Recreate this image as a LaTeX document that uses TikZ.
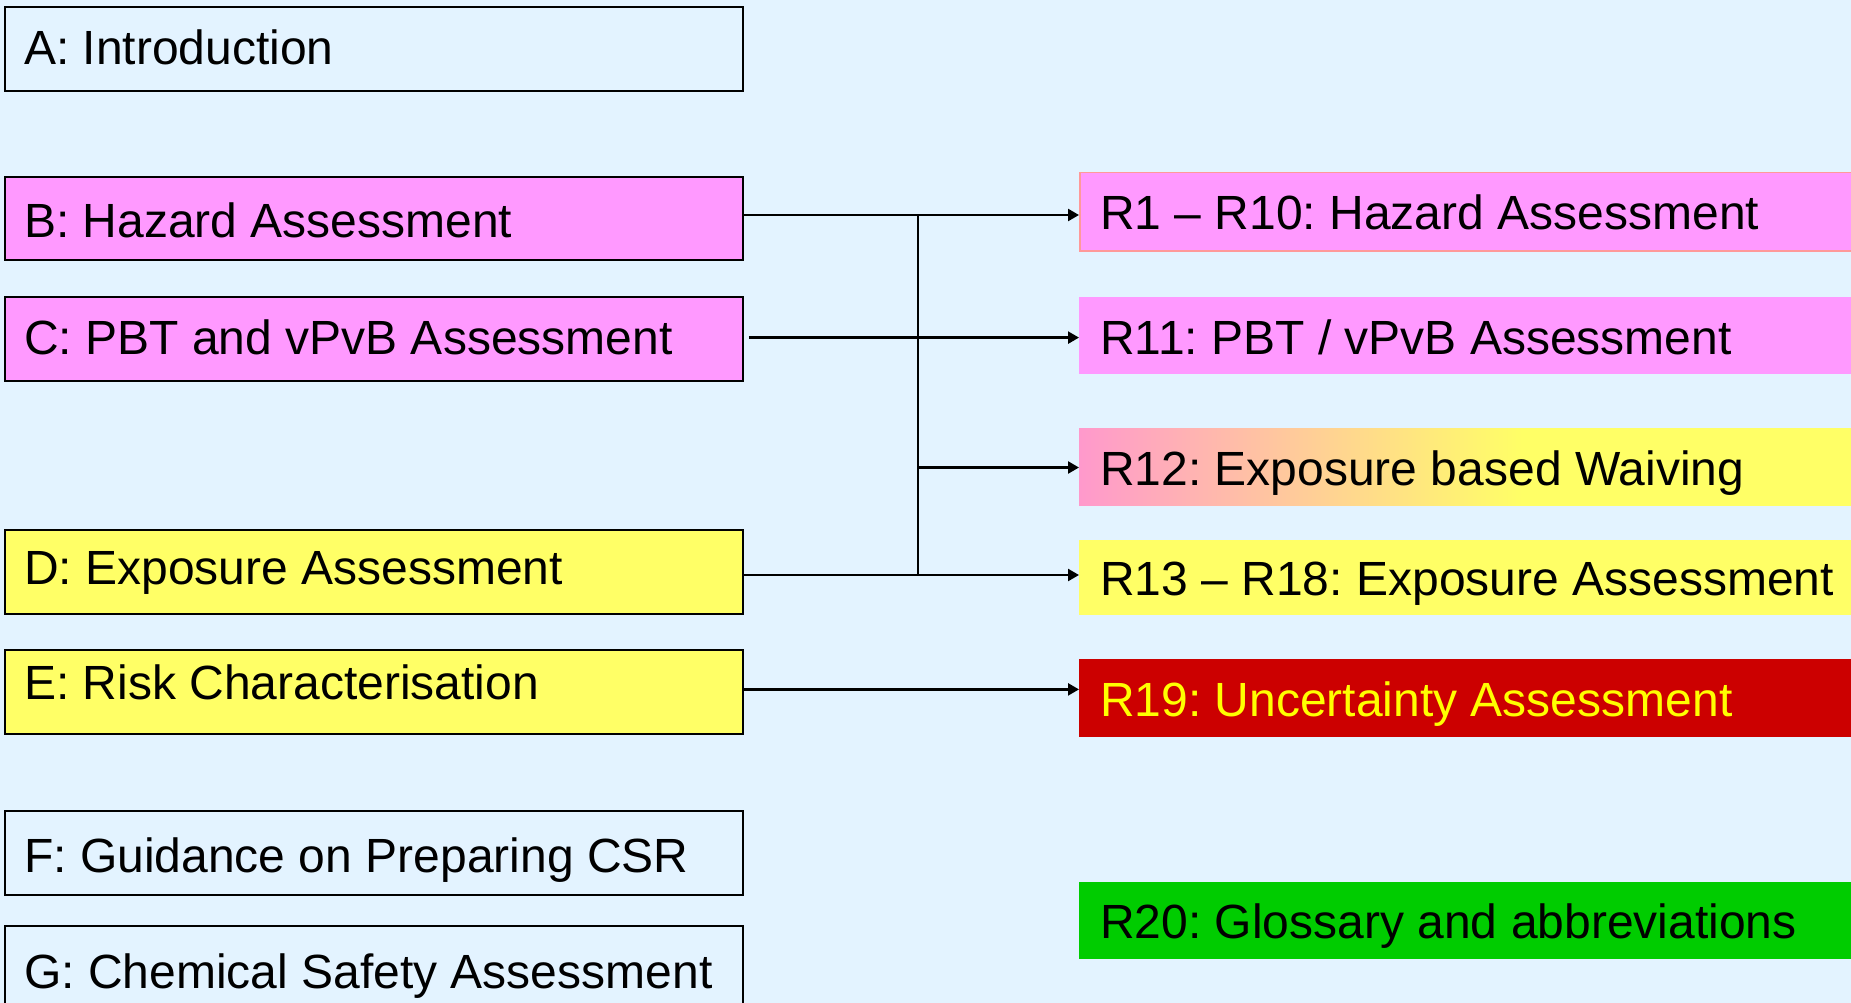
\documentclass[tikz,border=0pt]{standalone}
\usepackage{fontspec}
\setmainfont{Liberation Sans}
\usetikzlibrary{arrows.meta}
\definecolor{bg}{RGB}{227,243,255}
\definecolor{pinkA}{RGB}{255,153,255}
\definecolor{yellowA}{RGB}{255,255,102}
\definecolor{pinkB}{RGB}{255,153,204}
\definecolor{redA}{RGB}{204,0,0}
\definecolor{greenA}{RGB}{0,204,0}
\definecolor{salmon}{RGB}{255,153,153}
\definecolor{yellowT}{RGB}{255,255,0}
\pgfdeclarehorizontalshading{pinkyellow}{100bp}{color(0bp)=(pinkB); color(25bp)=(pinkB); color(53bp)=(yellowA); color(100bp)=(yellowA)}
\tikzset{
  lbox/.style={draw=black, line width=2.4pt, rectangle, inner sep=0pt, minimum width=738pt, anchor=north west},
  rbox/.style={draw=none, rectangle, inner sep=0pt, minimum width=791pt, anchor=north west},
  txt/.style={font=\fontsize{48}{57}\selectfont, anchor=base west, inner sep=0pt},
  conn/.style={line width=2.4pt, -{Triangle[length=11pt,width=12pt]}},
  trunk/.style={line width=1.6pt}
}
\frenchspacing
\begin{document}
\begin{tikzpicture}[x=1pt,y=-1pt]
\useasboundingbox (0,0) rectangle (1851,1003);
\fill[bg] (0,0) rectangle (1851,1003);
% left boxes
\node[lbox, fill=bg, minimum height=84pt] (A) at (3.5,6) {};
\node[lbox, fill=pinkA, minimum height=83pt] (B) at (3.5,176) {};
\node[lbox, fill=pinkA, minimum height=84pt] (C) at (3.5,296) {};
\node[lbox, fill=yellowA, minimum height=84pt] (D) at (3.5,529) {};
\node[lbox, fill=yellowA, minimum height=84pt] (E) at (3.5,649) {};
\node[lbox, fill=bg, minimum height=84pt] (F) at (3.5,810) {};
\node[lbox, fill=bg, minimum height=90pt] (G) at (3.5,925) {};
\node[txt] (At) at (24,65) {A: Introduction};
\node[txt] (Bt) at (24,237) {B: Hazard Assessment};
\node[txt] (Ct) at (24,354) {C: PBT and vPvB Assessment};
\node[txt] (Dt) at (24,584) {D: Exposure Assessment};
\node[txt] (Et) at (24,699) {E: Risk Characterisation};
\node[txt] (Ft) at (24,872) {F: Guidance on Preparing CSR};
\node[txt] (Gt) at (24,988) {G: Chemical Safety Assessment};
% right boxes
\node[rbox, fill=pinkA, draw=salmon, line width=1.5pt, minimum height=78pt] (R1) at (1079,172) {};
\node[rbox, fill=pinkA, minimum height=77pt] (R11) at (1079,297) {};
\node[rbox, shading=pinkyellow, minimum height=77pt] (R12) at (1079,428) {};
\node[rbox, fill=yellowA, minimum height=75pt] (R13) at (1079,540) {};
\node[rbox, fill=redA, minimum height=78pt] (R19) at (1079,659) {};
\node[rbox, fill=greenA, minimum height=77pt] (R20) at (1079,882) {};
\node[txt] (R1t) at (1100,229) {R1 – R10: Hazard Assessment};
\node[txt] (R11t) at (1100,354) {R11: PBT / vPvB Assessment};
\node[txt] (R12t) at (1100,485) {R12: Exposure based Waiving};
\node[txt] (R13t) at (1100,595) {R13 – R18: Exposure Assessment};
\node[txt, text=yellowT] (R19t) at (1100,716) {R19: Uncertainty Assessment};
\node[txt] (R20t) at (1100,938) {R20: Glossary and abbreviations};
% connectors
\coordinate (jB) at (918,215);
\coordinate (jC) at (918,337.6);
\coordinate (jR12) at (918,467.5);
\coordinate (jD) at (918,575);
\coordinate (jE) at (918,689.4);
\draw[trunk] (jB) -- (jD);
\draw[conn] (B.east |- jB) -- (R1.west |- jB);
\draw[conn] ([xshift=5pt]C.east |- jC) -- (R11.west |- jC);
\draw[conn] (jR12) -- (R12.west |- jR12);
\draw[conn] (D.east |- jD) -- (R13.west |- jD);
\draw[conn] (E.east |- jE) -- (R19.west |- jE);
\end{tikzpicture}
\end{document}
